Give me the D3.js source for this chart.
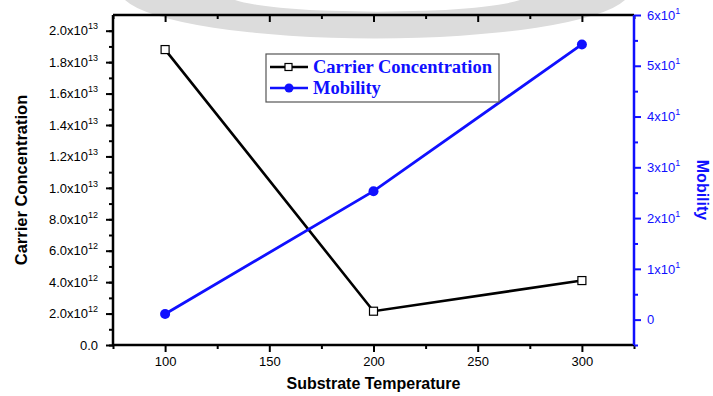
<!DOCTYPE html>
<html>
<head>
<meta charset="utf-8">
<script src="https://cdn.jsdelivr.net/npm/d3@7"></script>
<style>
  body { margin: 0; background: #fff; }
  svg { display: block; }
  .tick text { font-family: "Liberation Sans", Arial, sans-serif; font-size: 13px; }
</style>
</head>
<body>
<svg id="chart" width="713" height="396"></svg>
<script>
const temperature = [100, 200, 300];
const carrierConc = [1.88e13, 2.15e12, 4.1e12];
const mobility = [1.1, 25.3, 54.2];

const xTicks = [100, 150, 200, 250, 300];
const xMinor = [75, 125, 175, 225, 275, 325];
const leftTicks = d3.range(0, 11).map(i => i * 2e12);
const leftMinor = d3.range(0, 21).map(i => i * 1e12);
const rightTicks = [0, 10, 20, 30, 40, 50, 60];
const rightMinor = [-5, 5, 15, 25, 35, 45, 55];

const legendItems = ['Carrier Concentration', 'Mobility'];

const margin = { top: 15, right: 79, bottom: 51, left: 113 };
const W = 713, H = 396;
const width = W - margin.left - margin.right;
const height = H - margin.top - margin.bottom;
const blue = '#1010ff';

const svg = d3.select('#chart');

// faint watermark arc at the top of the original image
svg.append('path')
  .attr('d', 'M 125,0 A 255,48 0 0 0 625,0 L 520,0 A 150,17 0 0 1 235,0 Z')
  .attr('fill', '#dcdcdc');

const g = svg.append('g').attr('transform', `translate(${margin.left},${margin.top})`);

const x = d3.scaleLinear().domain([75, 325]).range([0, width]);
const yL = d3.scaleLinear().domain([0, 2.1e13]).range([height, 0]);
const yR = d3.scaleLinear().domain([-5, 60]).range([height, 0]);

function sup(sel, base, exp) {
  sel.text(null);
  sel.append('tspan').text(base);
  if (exp) sel.append('tspan').attr('dy', -6).attr('font-size', 9).text(exp);
}

// minor ticks
g.append('g').attr('transform', `translate(0,${height})`)
  .call(d3.axisBottom(x).tickValues(xMinor).tickSize(4).tickFormat(''));
g.append('g')
  .call(d3.axisTop(x).tickValues(xMinor).tickSize(-4).tickFormat(''));
g.append('g')
  .call(d3.axisLeft(yL).tickValues(leftMinor).tickSize(4).tickFormat(''));
g.append('g').attr('class', 'rminor').attr('transform', `translate(${width},0)`)
  .call(d3.axisRight(yR).tickValues(rightMinor).tickSize(4).tickFormat(''));

// major axes
g.append('g').attr('transform', `translate(0,${height})`)
  .call(d3.axisBottom(x).tickValues(xTicks).tickSize(7).tickPadding(5).tickFormat(d3.format('d')));
g.append('g')
  .call(d3.axisTop(x).tickValues(xTicks).tickSize(-7).tickFormat(''));

const yAxisL = g.append('g')
  .call(d3.axisLeft(yL).tickValues(leftTicks).tickSize(7).tickPadding(8));
yAxisL.selectAll('.tick text').each(function(d) {
  if (d === 0) { d3.select(this).text('0.0'); return; }
  const e = Math.floor(Math.log10(d) + 1e-9);
  const m = (d / Math.pow(10, e)).toFixed(1);
  sup(d3.select(this), m + 'x10', String(e));
});

const yAxisR = g.append('g').attr('class', 'raxis').attr('transform', `translate(${width},0)`)
  .call(d3.axisRight(yR).tickValues(rightTicks).tickSize(7).tickPadding(6));
yAxisR.selectAll('.tick text').each(function(d) {
  if (d === 0) { d3.select(this).text('0'); return; }
  sup(d3.select(this), (d / 10) + 'x10', '1');
});

g.selectAll('.domain').remove();
g.selectAll('.tick line').attr('stroke', '#000').attr('stroke-width', 2);
g.selectAll('.tick text').attr('fill', '#000');
g.selectAll('.raxis .tick line, .rminor .tick line').attr('stroke', blue);
g.selectAll('.raxis .tick text').attr('fill', blue);

// frame
g.append('line').attr('x1', 0).attr('x2', width).attr('y1', 0).attr('y2', 0).attr('stroke', '#000').attr('stroke-width', 2.5);
g.append('line').attr('x1', 0).attr('x2', width).attr('y1', height).attr('y2', height).attr('stroke', '#000').attr('stroke-width', 2.5);
g.append('line').attr('x1', 0).attr('x2', 0).attr('y1', 0).attr('y2', height).attr('stroke', '#000').attr('stroke-width', 2.5);
g.append('line').attr('x1', width).attr('x2', width).attr('y1', 0).attr('y2', height).attr('stroke', blue).attr('stroke-width', 2.5);

// series
const cc = temperature.map((t, i) => [t, carrierConc[i]]);
const mb = temperature.map((t, i) => [t, mobility[i]]);

g.append('path').datum(cc)
  .attr('fill', 'none').attr('stroke', '#000').attr('stroke-width', 2.6)
  .attr('d', d3.line().x(d => x(d[0])).y(d => yL(d[1])));
g.selectAll('.sq').data(cc).enter().append('rect')
  .attr('x', d => x(d[0]) - 4).attr('y', d => yL(d[1]) - 4)
  .attr('width', 8).attr('height', 8)
  .attr('fill', '#fff').attr('stroke', '#000').attr('stroke-width', 1.2);

g.append('path').datum(mb)
  .attr('fill', 'none').attr('stroke', blue).attr('stroke-width', 2.8)
  .attr('d', d3.line().x(d => x(d[0])).y(d => yR(d[1])));
g.selectAll('.dot').data(mb).enter().append('circle')
  .attr('cx', d => x(d[0])).attr('cy', d => yR(d[1])).attr('r', 5)
  .attr('fill', blue);

// legend
const lg = svg.append('g').attr('transform', 'translate(266,54)');
lg.append('rect').attr('width', 233).attr('height', 48)
  .attr('fill', '#fff').attr('stroke', '#555').attr('stroke-width', 1.2);
legendItems.forEach((name, i) => {
  const yy = 13 + i * 21;
  const col = i === 0 ? '#000' : blue;
  lg.append('line').attr('x1', 4).attr('x2', 42).attr('y1', yy).attr('y2', yy)
    .attr('stroke', col).attr('stroke-width', 2.6);
  if (i === 0) {
    lg.append('rect').attr('x', 19).attr('y', yy - 3.5).attr('width', 7).attr('height', 7)
      .attr('fill', '#fff').attr('stroke', '#000').attr('stroke-width', 1.2);
  } else {
    lg.append('circle').attr('cx', 23).attr('cy', yy).attr('r', 4.5).attr('fill', blue);
  }
  lg.append('text').attr('x', 47).attr('y', yy + 6)
    .attr('font-family', '"Liberation Serif", "Times New Roman", serif')
    .attr('font-weight', 'bold').attr('font-size', 18.5).attr('fill', blue)
    .text(name);
});

// axis titles
svg.append('text')
  .attr('transform', `translate(27,${margin.top + height / 2}) rotate(-90)`)
  .attr('text-anchor', 'middle')
  .attr('font-family', '"Liberation Sans", Arial, sans-serif')
  .attr('font-weight', 'bold').attr('font-size', 16.5)
  .text('Carrier Concentration');

svg.append('text')
  .attr('transform', `translate(697,190) rotate(90)`)
  .attr('text-anchor', 'middle')
  .attr('font-family', '"Liberation Sans", Arial, sans-serif')
  .attr('font-weight', 'bold').attr('font-size', 16).attr('fill', blue)
  .text('Mobility');

svg.append('text')
  .attr('x', margin.left + width / 2).attr('y', 389)
  .attr('text-anchor', 'middle')
  .attr('font-family', '"Liberation Sans", Arial, sans-serif')
  .attr('font-weight', 'bold').attr('font-size', 16)
  .text('Substrate Temperature');
</script>
</body>
</html>
